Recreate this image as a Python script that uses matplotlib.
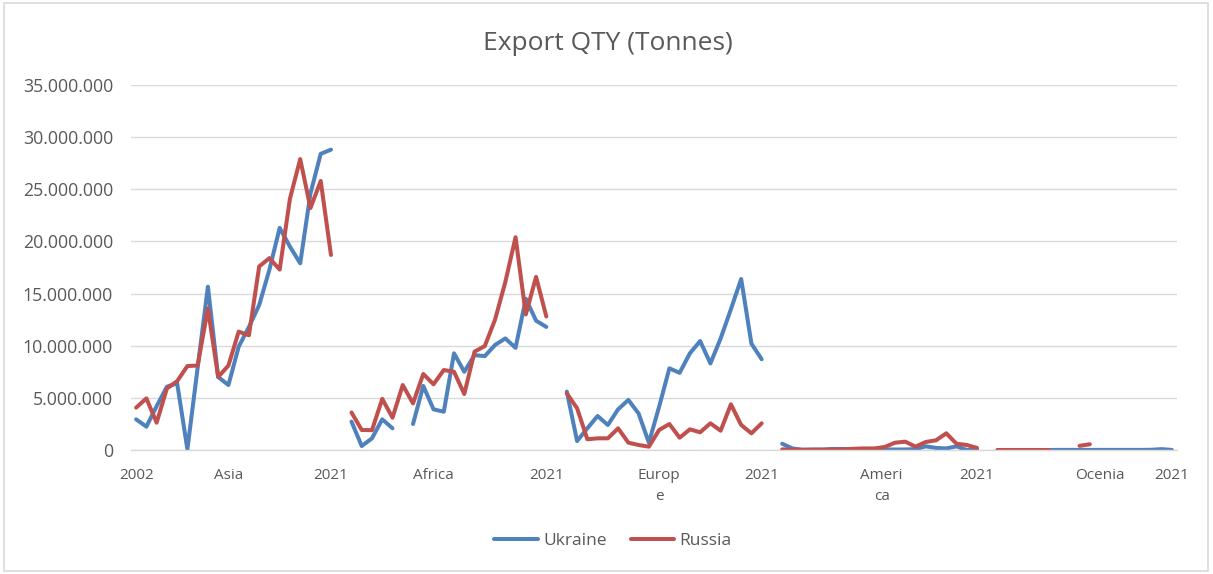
import matplotlib
matplotlib.use("Agg")
import matplotlib.pyplot as plt
from matplotlib.patches import Rectangle
from matplotlib.ticker import FuncFormatter
import numpy as np

nan = np.nan

# export quantities, millions of tonnes, one list per region and country
regions = ["Asia", "Africa", "Europe", "America", "Ocenia"]
years_full = list(range(2002, 2022))
years_ocenia = list(range(2004, 2022))

ukraine_asia = [2.94, 2.24, 4.2, 6.07, 6.4, 0.07, 7.9, 15.66, 7.0, 6.23,
                9.9, 11.8, 13.9, 17.3, 21.3, 19.5, 17.9, 24.6, 28.4, 28.8]
russia_asia = [4.06, 4.95, 2.62, 5.9, 6.6, 8.05, 8.1, 13.58, 7.0, 8.1,
               11.35, 11.0, 17.6, 18.4, 17.3, 24.1, 27.9, 23.2, 25.8, 18.7]

ukraine_africa = [2.72, 0.38, 1.12, 2.94, 2.08, nan, 2.49, 6.14, 3.9, 3.67,
                  9.27, 7.5, 9.1, 9.0, 10.07, 10.7, 9.8, 14.5, 12.4, 11.8]
russia_africa = [3.6, 1.92, 1.9, 4.9, 3.1, 6.23, 4.47, 7.29, 6.3, 7.67,
                 7.5, 5.37, 9.43, 9.97, 12.5, 16.1, 20.4, 13.0, 16.6, 12.8]

ukraine_europe = [5.6, 0.86, 2.08, 3.26, 2.4, 3.9, 4.8, 3.5, 0.7, 4.15,
                  7.83, 7.4, 9.27, 10.45, 8.3, 10.7, 13.5, 16.4, 10.2, 8.7]
russia_europe = [5.43, 4.0, 1.03, 1.12, 1.12, 2.08, 0.7, 0.48, 0.32, 1.92,
                 2.49, 1.18, 1.98, 1.7, 2.56, 1.85, 4.38, 2.4, 1.6, 2.56]

ukraine_america = [0.6, 0.15, 0.02, 0.05, 0.05, 0.1, 0.1, 0.05, 0.05, 0.05,
                   0.05, 0.05, 0.05, 0.08, 0.35, 0.2, 0.15, 0.35, 0.0, 0.05]
russia_america = [0.06, 0.02, 0.02, 0.02, 0.02, 0.03, 0.06, 0.12, 0.15, 0.15,
                  0.29, 0.7, 0.8, 0.32, 0.77, 0.93, 1.6, 0.6, 0.48, 0.2]

ukraine_ocenia = [0.0, 0.0, 0.0, 0.0, 0.0, 0.0, 0.01, 0.01, 0.01, 0.01,
                  0.01, 0.01, 0.01, 0.01, 0.01, 0.02, 0.08, 0.01]
russia_ocenia = [0.0, 0.0, 0.0, 0.0, 0.0, 0.0, nan, nan, 0.4, 0.55,
                 nan, nan, nan, nan, nan, nan, nan, nan]

# category labels shown under the axis
tick_labels = ["2002", "Asia", "2021", "Africa", "2021", "Europ\ne", "2021",
               "Ameri\nca", "2021", "Ocenia", "2021"]
tick_pos = [0, 9, 19, 29, 40, 51, 61, 72.7, 82, 94, 101]

blue = "#4f81bd"
red = "#c0504d"
grey_txt = "#595959"
grid_col = "#d9d9d9"


def join_groups(groups):
    # one empty category between consecutive regions
    out = []
    for i, g in enumerate(groups):
        if i > 0:
            out.append(nan)
        out.extend(g)
    return np.array(out) * 1e6


ukraine = join_groups([ukraine_asia, ukraine_africa, ukraine_europe,
                       ukraine_america, ukraine_ocenia])
russia = join_groups([russia_asia, russia_africa, russia_europe,
                      russia_america, russia_ocenia])
x = np.arange(len(ukraine))

plt.rcParams["font.family"] = ["Open Sans", "DejaVu Sans"]

W, H = 1213, 574
fig = plt.figure(figsize=(W / 100, H / 100), dpi=100)
fig.patches.append(Rectangle((4 / W, 3 / H), 1204 / W, 568 / H,
                             transform=fig.transFigure, fill=False,
                             edgecolor=grid_col, linewidth=1.2))

ax = fig.add_axes([131 / W, 1 - 450 / H, 1046 / W, 365 / H])

line_kw = dict(linewidth=2.9, solid_joinstyle="round", solid_capstyle="round")
ax.plot(x, ukraine, color=blue, label="Ukraine", **line_kw)
ax.plot(x, russia, color=red, label="Russia", **line_kw)

ax.set_xlim(-0.5, len(x) - 0.5)
ax.set_ylim(0, 35e6)
ax.set_yticks(np.arange(0, 35e6 + 1, 5e6))
ax.yaxis.set_major_formatter(
    FuncFormatter(lambda v, p: "{:,.0f}".format(v).replace(",", ".")))
ax.grid(axis="y", color=grid_col, linewidth=1.0)
ax.set_axisbelow(True)
for s in ["top", "right", "left"]:
    ax.spines[s].set_visible(False)
ax.spines["bottom"].set_color(grid_col)
ax.spines["bottom"].set_linewidth(1.0)

ax.set_xticks(tick_pos)
ax.set_xticklabels(tick_labels)
ax.tick_params(axis="x", length=0, pad=13, labelsize=11, labelcolor=grey_txt)
ax.tick_params(axis="y", length=0, pad=13, labelsize=12.8, labelcolor=grey_txt)
for lab in ax.get_xticklabels():
    lab.set_linespacing(1.5)

fig.text(0.5015, 1 - 43 / H, "Export QTY (Tonnes)", ha="center", va="center",
         fontsize=19, color=grey_txt)

fig.legend(loc="center", bbox_to_anchor=(613 / W, 1 - 541 / H), ncol=2,
           frameon=False, fontsize=12.5, handlelength=2.5, handletextpad=0.3,
           columnspacing=1.4, labelcolor=grey_txt)

fig.savefig("out.png", dpi=100)
